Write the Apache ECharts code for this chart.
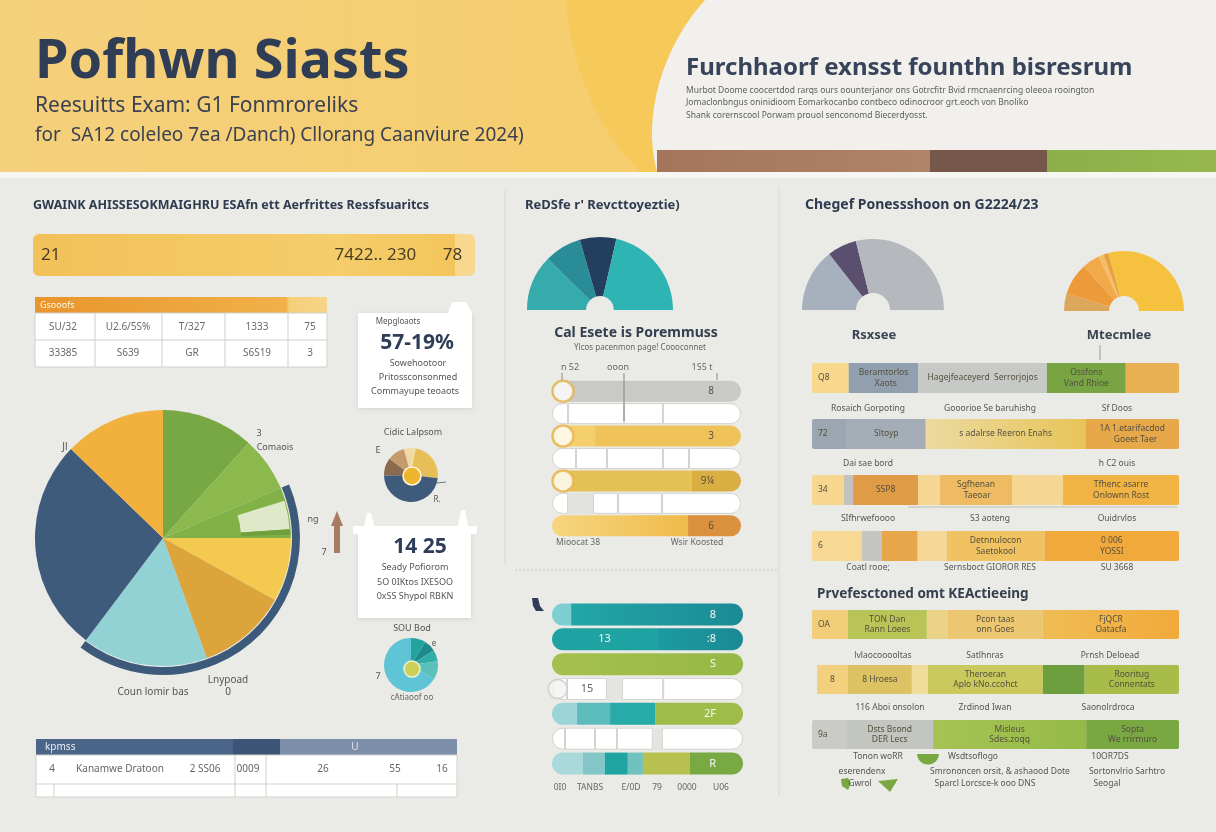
<!DOCTYPE html>
<html><head><meta charset="utf-8">
<script src="https://cdn.jsdelivr.net/npm/echarts@6.0.0/dist/echarts.min.js"></script>
<style>html,body{margin:0;padding:0;background:#eaeae6;}#chart{width:1216px;height:832px;}</style>
</head><body><div id="chart"></div>
<script>
const FONT = '"Noto Sans","DejaVu Sans",sans-serif';

/* ================= DATA ================= */
const bannerRows = ['21'];
const bannerSegs = [[69, 26.5, 4.5]];
const bannerLabels = [['21', '7422.. 230      78', '']];

const leftTableHead = 'Gsooofs';
const leftTableRows = [['SU/32', 'U2.6/5S%', 'T/327', '1333', '75'], ['33385', 'S639', 'GR', 'S6S19', '3']];

const mainPieValues = [42, 25, 23, 29, 41, 57, 97, 46];
const mainPieAccent = [73, 13, 2.5, 271.5];
const mainRingValues = [67, 150, 143];
const donutAValues = [10, 87, 172, 38, 38, 15];
const donutBValues = [32, 25, 25, 40, 238];

const revenueValues = [44.5, 29.5, 29, 77];

const scoreRows = ['r1', 'r2', 'r3', 'r4', 'r5', 'r6', 'r7'];
const scoreSegs = [[100], [8.5, 29.6, 20.6, 41.3], [22.8, 77.2], [12.7, 16.4, 29.6, 13.8, 27.5], [74, 26], [8.5, 13.2, 13.2, 23.3, 41.8], [72, 28]];
const scoreLabels = [['8'], [], ['', '3'], [], ['', '9¼'], [], ['', '6']];
const scoreDots = [5.8, null, 5.8, null, 5.8, null, null];
const scoreTicks = ['n 52', 'ooon', '1S5 t'];

const trackRows = ['t1', 't2', 't3', 't4', 't5', 't6', 't7'];
const trackSegs = [[10, 90], [55, 45], [100], [7.9, 20.9, 7.9, 21.5, 41.8], [13.1, 17.3, 23.6, 46], [6.8, 15.7, 11.5, 18.8, 4.7, 42.5], [16.2, 11.5, 12, 7.9, 24.6, 27.8]];
const trackLabels = [['', '8'], ['13', ':8'], ['S'], ['', '15'], ['', '', '', '2F'], [], ['', '', '', '', '', 'R']];
const trackTicks = ['0I0', 'TANBS', 'E/0D', '79', '0000', 'U06'];

const reseValues = [52, 24, 104];
const mteValues = [17, 31, 17, 5, 5, 105];

const stageRows = ['A', 'B', 'C', 'D'];
const stageSegs = [[10, 19, 35, 21.5, 14.5], [9.5, 21.5, 43.5, 25.5], [8.7, 2.5, 17.7, 6, 19.6, 13.9, 31.6], [13.6, 5.4, 9.8, 7.9, 26.7, 36.6]];
const stageLabels = [
  ['Q8', 'Beramtorlos\n  Xaots', 'Hagejfeaceyerd  Serrorjojos', 'Ossfons\nVand Rhioe', ''],
  ['72', 'Sltoyp', 's adalrse Reeron Enahs', '1A 1.etarifacdod\n   Goeet Taer'],
  ['34', '', 'SSP8', '', 'Sgfhenan\n Taeoar', '', 'Tfhenc asarre\nOnlownn Rost'],
  ['6', '', '', '', 'Detnnulocon\nSaetokool', '0 006\nYOSSI']
];
const stageCaptions = [
  ['Rosaich Gorpoting', 'Gooorioe Se baruhishg', 'Sf Doos'],
  ['Dai sae bord', '', 'h C2 ouis'],
  ['SIfhrwefoooo', 'S3 aoteng', 'Ouidrvlos'],
  ['Coatl rooe;', 'Sernsboct GIOROR RES', 'SU 3668']
];

const proRows = ['E', 'F', 'G'];
const proSegs = [[9.8, 21.5, 5.7, 25.9, 37.1], [1.4, 8.4, 17.4, 4.4, 31.3, 11.4, 25.7], [9.3, 23.7, 41.7, 25.3]];
const proLabels = [
  ['OA', 'TON Dan\nRann Loees', '', 'Pcon taas\nonn Goes', 'FjQCR\nOatacfa'],
  ['', '8', '8 Hroesa', '', 'Theroeran\nAplo kNo.ccohct', '', 'Rooritug\nConnentats'],
  ['9a', 'Dsts Bsond\nDER Lecs', 'Misleus\nSdes.zoqq', 'Sopta\nWe rrirmuro']
];
const proCaptions = [
  ['lvlaocooooltas', 'Satlhnras', 'Prnsh Deloead'],
  ['116 Aboi onsolon', 'Zrdinod Iwan', 'Saonolrdroca'],
  ['Tonon woRR', 'Wsdtsoflogo', '10OR7DS'],
  ['eserendenx', 'Smrononcen orsit, & ashaood Dote', 'Sortonvlrio Sarhtro'],
  ['Gwrol', 'Sparcl Lorcsce-k ooo DNS', 'Seogal']
];

const bottomTableHead = ['kpmss', 'U'];
const bottomTableRow = ['4', 'Kanamwe Dratoon', '2 SS06', '0009', '26', '55', '16'];

/* ================= STYLE ================= */
const LG = (a, b) => new echarts.graphic.LinearGradient(0, 0, 1, 0, [{ offset: 0, color: a }, { offset: 1, color: b }]);
const W = '#ffffff';
const bannerColors = [[LG('#f2c159', '#f5cd6a'), LG('#f5cd6a', '#f4c55c'), '#f8d88e']];
const scoreColors = [['#c9c9c6'], [W, W, W, W], ['#f4cf6c', '#f0c25a'], [W, W, W, W, W], ['#e4c055', '#d9ae43'], [W, '#e2e2de', W, W, W], [LG('#f6d67f', '#efbb4a'), '#da903c']];
const trackColors = [['#7dcfd2', LG('#22a6a7', '#1b8a95')], ['#1fa3a2', LG('#1d9aa0', '#1a8a95')], [LG('#a6c04d', '#96b845')], [W, W, '#e4e4e0', W, W], ['#9cd5d9', '#5cbcbc', '#27aaa8', '#9dbc48'], [W, W, W, W, '#e4e4e0', W], ['#a9d9db', '#82c6c8', '#1fa4a2', '#6fc2be', '#b8c14f', '#79a942']];
const stageColors = [
  ['#f7d88c', '#919fae', '#c7c9c6', '#78a444', '#e9b152'],
  ['#9ba6b1', '#a4adb6', LG('#ebdaa0', '#e8c459'), '#e7a84a'],
  ['#f7d790', '#c2c2be', '#df9b45', '#f5d793', '#eebb62', '#f5d793', '#f1b343'],
  ['#f7d994', '#c5c6c1', '#e8a64a', '#f5d898', '#f0c262', '#f0a93a']
];
const proColors = [
  ['#f2cd7a', '#b9c457', '#ead286', '#ecc670', LG('#efbd55', '#f2a93a')],
  ['rgba(0,0,0,0)', '#f3d07e', '#dcc262', '#eedc98', '#c9c95d', '#6e9f3e', '#a7bc49'],
  ['#cacbc7', '#c3c6c0', LG('#a5c352', '#95ba48'), '#79a741']
];
const mainPieColors = ['#77a843', '#8cb94e', '#82b247', '#f3c94f', '#dca53c', '#92d1d4', '#3f5b7c', '#f2b03c'];

/* ================= SERIES HELPERS ================= */
function stack(gi, segs, colors, labels, o) {
  const n = Math.max(...segs.map(r => r.length));
  const out = [];
  for (let k = 0; k < n; k++) {
    out.push({
      type: 'bar', xAxisIndex: gi, yAxisIndex: gi, stack: 'g' + gi, barWidth: o.bw, silent: true, z: 3,
      data: segs.map((row, i) => {
        if (k >= row.length) return '-';
        const first = k === 0, last = k === row.length - 1, r = o.r;
        const br = first && last ? [r, r, r, r] : first ? [r, 0, 0, r] : last ? [0, r, r, 0] : 0;
        const c = colors[i][k];
        const white = c === W;
        const lab = (labels[i] || [])[k] || '';
        let pos = 'inside', off = [0, 0];
        if (o.mode === 'end') { if (last) { pos = 'insideRight'; off = [-22, 0]; } }
        else if (o.mode === 'banner') { pos = first ? 'insideLeft' : 'insideRight'; off = [first ? 3 : 12, 0]; }
        else if (first) { pos = 'insideLeft'; off = [1, 0]; }
        return {
          value: row[k],
          itemStyle: { color: c, borderRadius: br, borderColor: white ? '#d3d3cf' : 'rgba(0,0,0,0)', borderWidth: white ? 1 : 0 },
          label: { show: !!lab, formatter: lab, position: pos, offset: off, color: white ? '#666666' : o.lc, fontSize: o.fs, fontFamily: FONT, lineHeight: o.fs + 2, fontWeight: o.fw || 'normal' }
        };
      })
    });
  }
  return out;
}
function pieS(center, radius, vals, cols, o = {}) {
  const data = vals.map((v, i) => ({ value: v, itemStyle: { color: cols[i] } }));
  if (o.semi) data.push({ value: vals.reduce((a, b) => a + b, 0), itemStyle: { color: 'rgba(0,0,0,0)' } });
  return {
    type: 'pie', center, radius, startAngle: o.semi ? 180 : 90, clockwise: true, silent: true, z: o.z || 3,
    label: { show: false }, labelLine: { show: false }, emphasis: { disabled: true },
    itemStyle: { borderColor: o.bc || 'rgba(0,0,0,0)', borderWidth: o.bw || 0 },
    minAngle: 0, data
  };
}

/* ================= GRAPHICS ================= */
const G = [];
function T(x, y, text, size, o = {}) {
  G.push({ type: 'text', x, y, z: o.z || 10, silent: true, style: { text, fill: o.c || '#666', font: (o.w || 'normal') + ' ' + size + 'px ' + FONT, textAlign: o.a || 'center', textVerticalAlign: 'middle', lineHeight: o.lh || size + 3 } });
}
function R(x, y, w, h, fill, o = {}) {
  G.push({ type: 'rect', z: o.z == null ? 1 : o.z, silent: true, shape: { x, y, width: w, height: h, r: o.r || 0 }, style: { fill, stroke: o.s || null, lineWidth: o.lw || 0, shadowBlur: o.sb || 0, shadowColor: 'rgba(0,0,0,0.10)', shadowOffsetY: o.sb ? 1 : 0 } });
}
function L(x1, y1, x2, y2, c, o = {}) {
  G.push({ type: 'line', z: o.z || 2, silent: true, shape: { x1, y1, x2, y2 }, style: { stroke: c, lineWidth: o.lw || 1, lineDash: o.dash || null } });
}
function PG(pts, fill, o = {}) { G.push({ type: 'polygon', z: o.z || 1, silent: true, shape: { points: pts }, style: { fill, opacity: o.op == null ? 1 : o.op } }); }
function cubic(p0, p1, p2, p3, n) {
  const pts = [];
  for (let i = 0; i <= n; i++) {
    const t = i / n, u = 1 - t;
    pts.push([u * u * u * p0[0] + 3 * u * u * t * p1[0] + 3 * u * t * t * p2[0] + t * t * t * p3[0],
              u * u * u * p0[1] + 3 * u * u * t * p1[1] + 3 * u * t * t * p2[1] + t * t * t * p3[1]]);
  }
  return pts;
}

/* header */
R(0, 0, 1216, 178, '#f1f0ec', { z: 0 });
R(0, 172, 1216, 6, '#f6f6f3', { z: 0 });
const edge = cubic([705, 0], [668, 40], [640, 110], [657, 172], 24);
PG([[0, 0]].concat(edge).concat([[0, 172]]), new echarts.graphic.LinearGradient(0, 0, 1, 0, [{ offset: 0, color: '#f5d07c' }, { offset: 1, color: '#f6cd6c' }]));
const blobL = cubic([640, 172], [598, 130], [572, 70], [566, 0], 20);
PG(edge.concat(blobL), '#f5c545', { op: 0.5, z: 2 });
R(657, 150, 273, 22, LG('#a4755a', '#b08469'));
R(930, 150, 117, 22, '#76584a');
R(1047, 150, 169, 22, LG('#8caf4a', '#96b84f'));
T(35, 63, 'Pofhwn Siasts', 54, { w: 'bold', c: '#2f3d55', a: 'left' });
T(35, 106, 'Reesuitts Exam: G1 Fonmroreliks', 21, { c: '#3b4150', a: 'left' });
T(35, 136, 'for  SA12 coleleo 7ea /Danch) Cllorang Caanviure 2024)', 19, { c: '#3b4150', a: 'left' });
T(686, 68, 'Furchhaorf exnsst founthn bisresrum', 24, { w: 'bold', c: '#38445a', a: 'left' });
T(686, 91, 'Murbot Doome coocertdod rarqs ours oounterjanor ons Gotrcfitr Bvid rmcnaenrcing oleeoa rooington', 8.5, { c: '#5d5d5d', a: 'left' });
T(686, 103, 'Jomaclonbngus oninidioom Eomarkocanbo contbeco odinocroor grt.eoch von Bnoliko', 8.5, { c: '#5d5d5d', a: 'left' });
T(686, 116, 'Shank corernscool Porwam prouol senconomd Biecerdyosst.', 8.5, { c: '#5d5d5d', a: 'left' });

/* panel separators */
L(505, 190, 505, 565, '#d8d8d4');
L(779, 186, 779, 795, '#d8d8d4');
L(515, 570, 778, 570, '#c9c9c5', { dash: [2, 2] });

/* left section */
T(33, 205, 'GWAINK AHISSESOKMAIGHRU ESAfn ett Aerfrittes Ressfsuaritcs', 12.5, { w: 'bold', c: '#2f3b4f', a: 'left' });
R(35, 297, 292, 16, new echarts.graphic.LinearGradient(0, 0, 1, 0, [{ offset: 0, color: '#e8952c' }, { offset: 0.86, color: '#f1b14a' }, { offset: 0.87, color: '#f6cf78' }, { offset: 1, color: '#f6d488' }]));
T(40, 305, leftTableHead, 9, { c: '#fff6e0', a: 'left' });
R(35, 313, 292, 54, '#ffffff', { s: '#cfcfcc', lw: 1 });
L(35, 340, 327, 340, '#cfcfcc');
[95, 162, 225, 288].forEach(x => L(x, 313, x, 367, '#cfcfcc'));
const colC = [63, 128, 192, 257, 310];
leftTableRows.forEach((row, r) => row.forEach((t, c) => T(colC[c], r ? 353 : 327, t, 10, { c: '#6a6a6a' })));

/* callout 1 */
R(358, 313, 114, 95, '#ffffff', { sb: 4 });
PG([[448, 313], [452, 302], [466, 302], [472, 313]], '#ffffff');
T(398, 322, 'Mepgloaots', 8, { c: '#555' });
T(417, 343, '57-19%', 21, { w: 'bold', c: '#2f3d58' });
T(418, 363, 'Sowehootoor', 9, { c: '#555' });
T(418, 377, 'Pritossconsonmed', 9, { c: '#555' });
T(415, 391, 'Commayupe teoaots', 9, { c: '#555' });

/* callout 2 */
R(353, 526, 124, 8, '#ffffff', { z: 2 });
PG([[364, 526], [367, 513], [371, 513], [374, 526]], '#ffffff');
PG([[458, 526], [461, 510], [465, 510], [468, 526]], '#ffffff');
R(358, 533, 113, 85, '#ffffff', { sb: 4 });
T(420, 547, '14 25', 21, { w: 'bold', c: '#2f3d58' });
T(415, 567, 'Seady Pofiorom', 9, { c: '#555' });
T(415, 582, '5O 0IKtos IXESOO', 9, { c: '#555' });
T(415, 596, '0xSS Shypol RBKN', 9, { c: '#555' });

/* pie labels */
T(65, 447, 'Jl', 10, { c: '#555' });
T(259, 433, '3', 9, { c: '#555' });
T(275, 447, 'Comaois', 9, { c: '#555' });
T(313, 519, 'ng', 9, { c: '#555' });
T(324, 552, '7', 9, { c: '#555' });
PG([[331, 526], [337, 511], [343, 526], [340, 526], [340, 553], [334, 553], [334, 526]], '#a77c60');
T(228, 680, 'Lnypoad', 10, { c: '#555' });
T(228, 692, '0', 10, { c: '#555' });
T(153, 692, 'Coun lomir bas', 10, { c: '#555' });
T(413, 432, 'Cidic Lalpsom', 9, { c: '#555' });
T(378, 450, 'E', 9, { c: '#555' });
T(437, 500, 'R.', 8, { c: '#555' });
L(437, 483, 446, 482, '#777');
T(412, 628, 'SOU Bod', 9, { c: '#555' });
T(378, 676, '7', 9, { c: '#555' });
T(434, 644, 'e', 8, { c: '#555' });
T(412, 698, 'cAtiaoof oo', 8, { c: '#666' });

/* bottom table */
R(36, 739, 197, 16, '#4a6587');
R(233, 739, 47, 16, '#3c5577');
R(280, 739, 177, 16, '#7e8fa9');
T(45, 747, bottomTableHead[0], 10, { c: '#e8edf4', a: 'left' });
T(355, 747, bottomTableHead[1], 10, { c: '#dfe5ee' });
R(36, 755, 421, 42, '#ffffff', { s: '#cfcfcc', lw: 1 });
L(36, 784, 457, 784, '#cfcfcc');
L(235, 755, 235, 797, '#cfcfcc'); L(266, 755, 266, 797, '#cfcfcc');
L(54, 784, 54, 797, '#cfcfcc'); L(397, 784, 397, 797, '#cfcfcc');
const btX = [52, 120, 205, 248, 323, 395, 442];
bottomTableRow.forEach((t, i) => T(btX[i], 769, t, 10, { c: '#666' }));

/* middle section */
T(525, 205, "ReDSfe r' Revcttoyeztie)", 13, { w: 'bold', c: '#2f3b4f', a: 'left' });
T(636, 333, 'Cal Esete is Poremmuss', 14, { w: 'bold', c: '#34404f' });
T(640, 348, 'Ylcos pacenmon page! Coooconnet', 8, { c: '#666' });
const tickX = [570, 618, 702];
scoreTicks.forEach((t, i) => T(tickX[i], 367, t, 9, { c: '#666' }));
L(562, 373, 562, 382, '#888', { z: 5 });
L(624, 373, 624, 421, '#888', { z: 5 });
L(717, 373, 717, 380, '#888', { z: 5 });
T(578, 543, 'Mioocat 38', 8.5, { c: '#666' });
T(697, 543, 'Wsir Koosted', 8.5, { c: '#666' });
const ttX = [560, 590, 631, 657, 687, 721];
trackTicks.forEach((t, i) => T(ttX[i], 788, t, 8.5, { c: '#666' }));
PG([[532, 598], [538, 598], [540, 606], [544, 611], [536, 611], [533, 606]], '#2f3d58');

/* right section */
T(805, 205, 'Chegef Ponessshoon on G2224/23', 14, { w: 'bold', c: '#2f3b4f', a: 'left' });
T(874, 335, 'Rsxsee', 13, { w: 'bold', c: '#3a4352' });
T(1119, 335, 'Mtecmlee', 13, { w: 'bold', c: '#3a4352' });
L(1100, 345, 1100, 360, '#999');
L(908, 507, 1177, 507, '#bdbdb8');
const capX = [868, 990, 1117];
const capY = [409, 464, 519, 568];
stageCaptions.forEach((row, r) => row.forEach((t, c) => { if (t) T(capX[c], capY[r], t, 8.5, { c: '#555' }); }));
T(817, 594, 'Prvefesctoned omt KEActieeing', 13.5, { w: 'bold', c: '#34404f', a: 'left' });
const pcX = [[883, 985, 1110], [890, 985, 1108], [878, 973, 1110], [862, 1000, 1127], [860, 985, 1107]];
const pcY = [656, 708, 757, 772, 784];
proCaptions.forEach((row, r) => row.forEach((t, c) => T(pcX[r][c], pcY[r], t, 8.5, { c: '#555' })));
PG(cubic([917, 754], [918, 768], [938, 768], [939, 754], 12), '#79a741', { z: 5 });
PG([[878, 781], [898, 779], [890, 792]], '#79a741');
PG([[842, 786], [841, 779], [848, 778], [851, 783], [848, 790]], '#79a741', { z: 5 });

/* ================= OPTION ================= */
const grids = [
  { left: 33, top: 234, width: 442, height: 42 },
  { left: 552, top: 380, width: 189, height: 157 },
  { left: 552, top: 602, width: 191, height: 174 },
  { left: 812, top: 350, width: 367, height: 224 },
  { left: 812, top: 597, width: 367, height: 165 }
];
const cats = [bannerRows, scoreRows, trackRows, stageRows, proRows];

const series = [].concat(
  stack(0, bannerSegs, bannerColors, bannerLabels, { bw: 42, r: 6, mode: 'banner', lc: '#4a3d25', fs: 17 }),
  stack(1, scoreSegs, scoreColors, scoreLabels, { bw: 21, r: 10.5, mode: 'end', lc: '#5a5040', fs: 10 }),
  stack(2, trackSegs, trackColors, trackLabels, { bw: 22, r: 11, mode: 'end', lc: '#f4f8f2', fs: 11 }),
  stack(3, stageSegs, stageColors, stageLabels, { bw: 30, r: 2, mode: 'lead', lc: '#55503f', fs: 8.5 }),
  stack(4, proSegs, proColors, proLabels, { bw: 29, r: 2, mode: 'lead', lc: '#55503f', fs: 8.5 }),
  [
    {
      type: 'scatter', xAxisIndex: 1, yAxisIndex: 1, silent: true, z: 6, symbolSize: 21,
      itemStyle: { color: '#ffffff', borderColor: '#e4b44c', borderWidth: 2.5 },
      data: scoreDots.map((v, i) => v == null ? null : [v, i]).filter(Boolean)
    },
    {
      type: 'scatter', xAxisIndex: 2, yAxisIndex: 2, silent: true, z: 6, symbolSize: 19,
      itemStyle: { color: '#f2f2f0', borderColor: '#c9c9c6', borderWidth: 1.5 },
      data: [[3, 3]]
    },
    pieS([163, 538], [0, 128], mainPieValues, mainPieColors),
    pieS([163, 538], [78, 127], mainPieAccent, ['rgba(0,0,0,0)', '#dfe8c9', '#6f9f3a', 'rgba(0,0,0,0)'], { z: 4 }),
    pieS([163, 538], [129, 137], mainRingValues, ['rgba(0,0,0,0)', '#3d5a7b', 'rgba(0,0,0,0)']),
    pieS([411, 475], [0, 27], donutAValues, ['#f4dd9c', '#e8be57', '#3e5b7c', '#8a694d', '#c59b6c', '#efd9a8']),
    pieS([412, 476], [0, 9], [1], ['#f0b52f'], { z: 5, bc: '#fff6dc', bw: 1.5 }),
    pieS([411, 665], [0, 27], donutBValues, ['#22a39d', '#1b8b8c', '#33ada8', '#5cc0bd', '#5fc4d6']),
    pieS([412, 669], [0, 8], [1], ['#cccf5a'], { z: 5, bc: '#eef3d0', bw: 1.5 }),
    pieS([600, 310], [14, 73], revenueValues, ['#36abab', '#2a8c96', '#243e5d', '#2eb4b2'], { semi: true }),
    pieS([873, 310], [17, 71], reseValues, ['#a7b1be', '#5b4f70', '#b5b9bd'], { semi: true }),
    pieS([1124, 311], [15, 60], mteValues, ['#dca65b', '#ed9a3b', '#f1a94a', '#f5be64', '#e9a042', '#f5c13f'], { semi: true })
  ]
);

const option = {
  backgroundColor: '#eaeae6',
  animation: false,
  grid: grids,
  xAxis: grids.map((g, i) => ({ gridIndex: i, type: 'value', min: 0, max: 100, show: false })),
  yAxis: grids.map((g, i) => ({ gridIndex: i, type: 'category', data: cats[i], inverse: true, show: false })),
  graphic: { elements: G },
  series
};
const chart = echarts.init(document.getElementById('chart'), null, { renderer: 'canvas' });
chart.setOption(option);
</script></body></html>
